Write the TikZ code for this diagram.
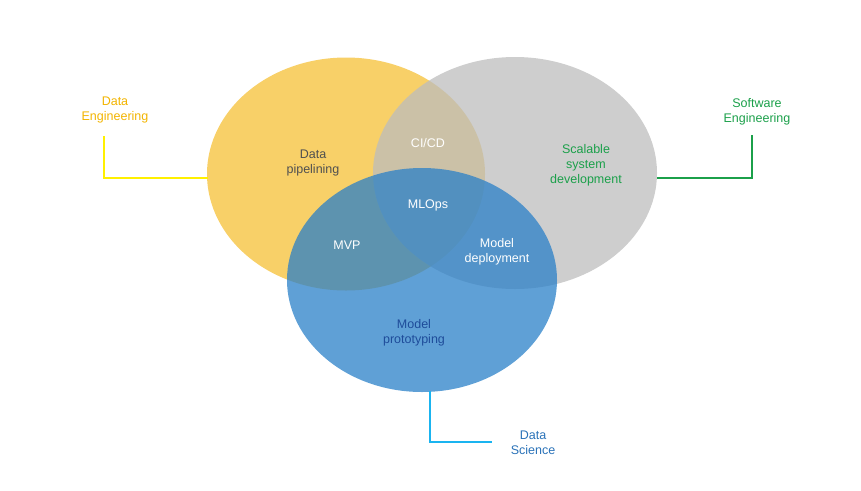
\documentclass[tikz,border=0pt]{standalone}
\usepackage{fontspec}
\setmainfont{Liberation Sans}
\usetikzlibrary{shapes.geometric}
\definecolor{yel}{HTML}{F5C036}
\definecolor{gry}{HTML}{BDBDBD}
\definecolor{blu}{HTML}{2A80C8}
\definecolor{detxt}{HTML}{F2B400}
\definecolor{deline}{HTML}{FFF000}
\definecolor{setxt}{HTML}{1BA04A}
\definecolor{dstxt}{HTML}{2A72B8}
\definecolor{dsline}{HTML}{1AB4F0}
\definecolor{pipetxt}{HTML}{505050}
\definecolor{prototxt}{HTML}{1E4C9A}
\begin{document}
\begin{tikzpicture}[x=1pt,y=-1pt,
  venn/.style={ellipse, draw=none, fill opacity=0.75, inner sep=0pt},
  lbl/.style={font=\fontsize{12.5}{15}\selectfont, align=center, inner sep=0pt},
  conn/.style={line width=2.6pt}]
\useasboundingbox (0,0) rectangle (861,490);
\node[venn, fill=yel, minimum width=278, minimum height=233] (de) at (346,174) {};
\node[venn, fill=gry, minimum width=284, minimum height=232] (se) at (515,173) {};
\node[venn, fill=blu, minimum width=270, minimum height=224] (ds) at (422,280) {};
\node[lbl, text=pipetxt] (pipe) at (313,163) {Data\\pipelining};
\node[lbl, text=setxt] (scal) at (586,165) {Scalable\\system\\development};
\node[lbl, text=white] (cicd) at (428,143) {CI/CD};
\node[lbl, text=white] (mlops) at (428,205) {MLOps};
\node[lbl, text=white] (mvp) at (347,245) {MVP};
\node[lbl, text=white] (mdep) at (497,252) {Model\\deployment};
\node[lbl, text=prototxt] (proto) at (414,333) {Model\\prototyping};
\node[lbl, text=detxt] (detitle) at (115,110) {Data\\Engineering};
\node[lbl, text=setxt] (setitle) at (757,112) {Software\\Engineering};
\node[lbl, text=dstxt] (dstitle) at (533,443) {Data\\Science};
\coordinate (a1) at (104,136);
\coordinate (a2) at (207.5,178);
\coordinate (b1) at (752,135);
\coordinate (b2) at (657,178);
\coordinate (c1) at (430,391);
\coordinate (c2) at (492,442);
\draw[conn, deline] (a1) |- (a2);
\draw[conn, setxt] (b1) |- (b2);
\draw[conn, dsline] (c1) |- (c2);
\end{tikzpicture}
\end{document}
